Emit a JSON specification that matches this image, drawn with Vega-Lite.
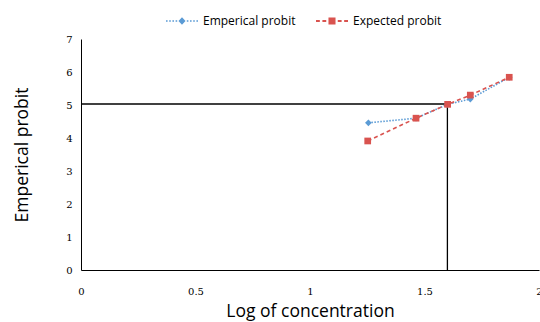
{
  "$schema": "https://vega.github.io/schema/vega-lite/v6.json",
  "width": 458,
  "height": 231,
  "autosize": {"type": "none"},
  "padding": {"left": 81, "top": 39, "right": 1, "bottom": 52},
  "background": "white",
  "config": {
    "view": {"stroke": null},
    "axis": {
      "grid": false,
      "ticks": false,
      "labelOverlap": false,
      "labelFlush": false,
      "domainColor": "#000000",
      "domainWidth": 1,
      "labelFont": "DejaVu Serif",
      "labelFontSize": 10,
      "labelColor": "#000000",
      "titleFont": "Open Sans",
      "titleFontWeight": "normal",
      "titleFontSize": 17.5,
      "titleColor": "#000000"
    }
  },
  "datasets": {
    "series": [
      {"x": 1.255, "y": 4.46, "series": "Emperical probit"},
      {"x": 1.463, "y": 4.6, "series": "Emperical probit"},
      {"x": 1.601, "y": 5.02, "series": "Emperical probit"},
      {"x": 1.7, "y": 5.18, "series": "Emperical probit"},
      {"x": 1.87, "y": 5.84, "series": "Emperical probit"},
      {"x": 1.252, "y": 3.91, "series": "Expected probit"},
      {"x": 1.463, "y": 4.6, "series": "Expected probit"},
      {"x": 1.601, "y": 5.02, "series": "Expected probit"},
      {"x": 1.7, "y": 5.3, "series": "Expected probit"},
      {"x": 1.87, "y": 5.84, "series": "Expected probit"}
    ],
    "refs": [
      {"x": 0, "x2": 1.6, "y": 5.03, "y2": 5.03},
      {"x": 1.6, "x2": 1.6, "y": 0, "y2": 5.03}
    ]
  },
  "layer": [
    {
      "data": {"name": "refs"},
      "mark": {"type": "rule", "color": "#000000", "strokeWidth": 1.3},
      "encoding": {
        "x": {"field": "x", "type": "quantitative", "scale": {"domain": [0, 2]},
          "axis": {"title": "Log of concentration", "values": [0, 0.5, 1, 1.5, 2], "format": "~g", "labelPadding": 16, "titlePadding": 6, "labelOverlap": false, "labelFlush": false}},
        "x2": {"field": "x2"},
        "y": {"field": "y", "type": "quantitative", "scale": {"domain": [0, 7]},
          "axis": {"title": "Emperical probit", "values": [0, 1, 2, 3, 4, 5, 6, 7], "tickCount": 8, "labelPadding": 9, "titlePadding": 34, "labelOverlap": false}},
        "y2": {"field": "y2"}
      }
    },
    {
      "data": {"name": "series"},
      "mark": {"type": "line", "strokeWidth": 1.6},
      "encoding": {
        "x": {"field": "x", "type": "quantitative"},
        "y": {"field": "y", "type": "quantitative"},
        "color": {"field": "series", "type": "nominal",
          "scale": {"domain": ["Emperical probit", "Expected probit"], "range": ["#5B9BD5", "#D9534F"]},
          "legend": {"orient": "none", "legendX": 85, "legendY": -34, "direction": "horizontal", "title": null,
            "labelFont": "Open Sans", "labelFontSize": 12, "labelColor": "#000000", "symbolSize": 1024, "columnPadding": 20, "labelOffset": 5,
            "encode": {"symbols": {"update": {
              "shape": {"signal": "datum.value === 'Emperical probit' ? 'M-1,-0.05H-0.9V0.05H-1ZM-0.8,-0.05H-0.7V0.05H-0.8ZM-0.6,-0.05H-0.5V0.05H-0.6ZM-0.4,-0.05H-0.3V0.05H-0.4ZM-0.22,0L0,-0.24L0.22,0L0,0.24ZM0.3,-0.05H0.4V0.05H0.3ZM0.5,-0.05H0.6V0.05H0.5ZM0.7,-0.05H0.8V0.05H0.7ZM0.9,-0.05H1V0.05H0.9Z' : 'M-1,-0.055H-0.76V0.055H-1ZM-0.6,-0.055H-0.36V0.055H-0.6ZM-0.22,-0.22H0.22V0.22H-0.22ZM0.36,-0.055H0.6V0.055H0.36ZM0.76,-0.055H1V0.055H0.76Z'"},
              "fill": {"signal": "datum.value === 'Emperical probit' ? '#5B9BD5' : '#D9534F'"},
              "strokeWidth": {"value": 0},
              "fillOpacity": {"value": 1},
              "opacity": {"value": 1}
            }}}}},
        "strokeDash": {"field": "series", "type": "nominal",
          "scale": {"domain": ["Emperical probit", "Expected probit"], "range": [[1.5, 1.5], [4, 3]]}}
      }
    },
    {
      "data": {"name": "series"},
      "transform": [{"filter": "datum.series === 'Emperical probit'"}],
      "mark": {"type": "point", "filled": true, "opacity": 1, "shape": "diamond", "size": 45, "color": "#5B9BD5"},
      "encoding": {
        "x": {"field": "x", "type": "quantitative"},
        "y": {"field": "y", "type": "quantitative"}
      }
    },
    {
      "data": {"name": "series"},
      "transform": [{"filter": "datum.series === 'Expected probit'"}],
      "mark": {"type": "point", "filled": true, "opacity": 1, "shape": "square", "size": 45, "color": "#D9534F"},
      "encoding": {
        "x": {"field": "x", "type": "quantitative"},
        "y": {"field": "y", "type": "quantitative"}
      }
    }
  ]
}
